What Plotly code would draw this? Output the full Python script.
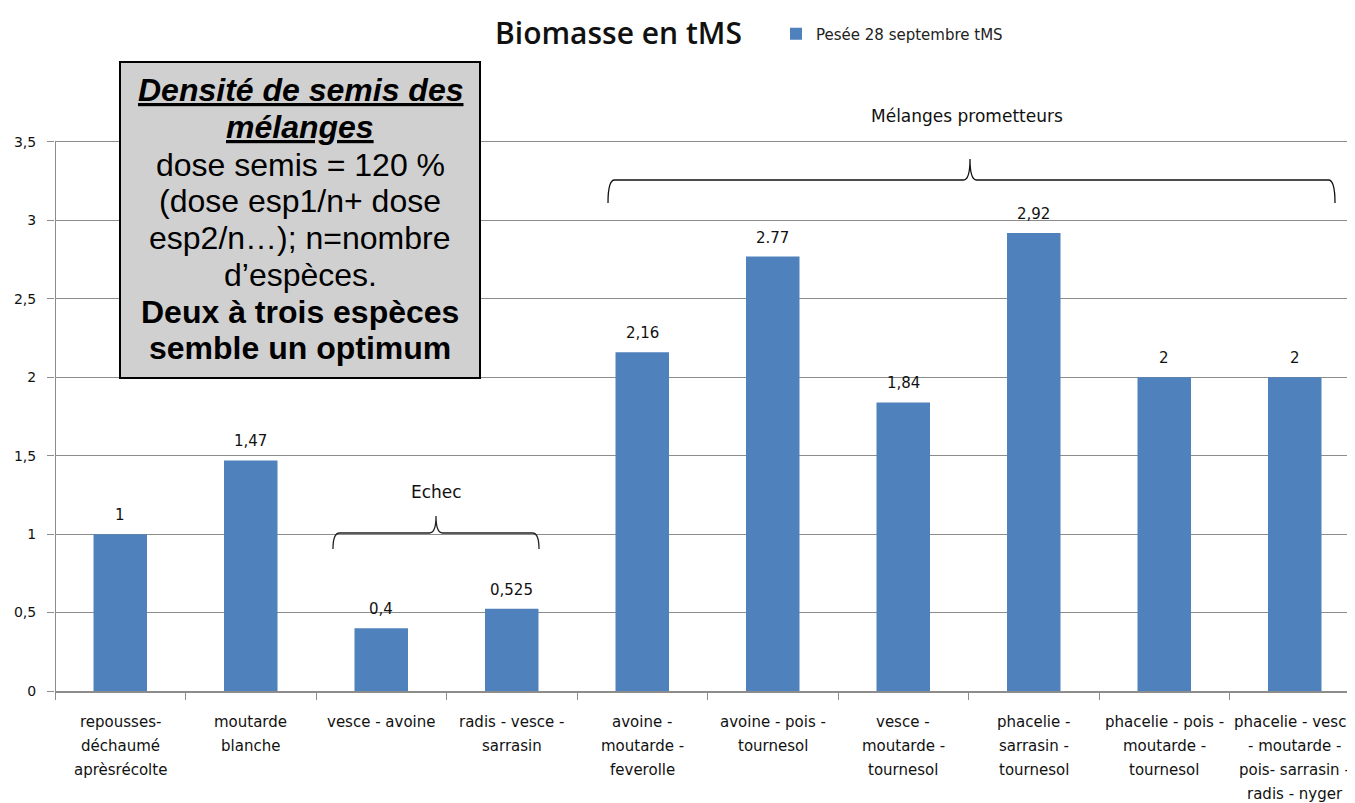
import plotly.graph_objects as go

# ---- data ----
categories = [
    ["repousses-", "déchaumé", "aprèsrécolte"],
    ["moutarde", "blanche"],
    ["vesce - avoine"],
    ["radis - vesce -", "sarrasin"],
    ["avoine -", "moutarde -", "feverolle"],
    ["avoine - pois -", "tournesol"],
    ["vesce -", "moutarde -", "tournesol"],
    ["phacelie -", "sarrasin -", "tournesol"],
    ["phacelie - pois -", "moutarde -", "tournesol"],
    ["phacelie - vesce", "- moutarde -", "pois- sarrasin -", "radis - nyger"],
]
values = [1, 1.47, 0.4, 0.525, 2.16, 2.77, 1.84, 2.92, 2, 2]
value_labels = ["1", "1,47", "0,4", "0,525", "2,16", "2.77", "1,84", "2,92", "2", "2"]
y_ticks = [0, 0.5, 1, 1.5, 2, 2.5, 3, 3.5]
y_ticktext = ["0", "0,5", "1", "1,5", "2", "2,5", "3", "3,5"]
series_name = "Pesée 28 septembre tMS"
title_text = "Biomasse en tMS"
box_lines = [
    "<b><i><u>Densité de semis des</u></i></b>",
    "<b><i><u>mélanges</u></i></b>",
    "dose semis = 120 %",
    "(dose esp1/n+ dose",
    "esp2/n…); n=nombre",
    "d’espèces.",
    "<b>Deux à trois espèces</b>",
    "<b>semble un optimum</b>",
]

BAR = "#4F81BD"
GRID = "#8c8c8c"
LABEL_FONT = "DejaVu Sans"

# layout geometry (reference pixels; page body adds an 8px offset)
OFF = 8
PLOT_L, PLOT_TOP, PLOT_BOTTOM = 55, 10, 691
PX_PER_Y = 156.86
PX_PER_CAT = 130.5


def py2y(py):
    return (PLOT_BOTTOM - py) / PX_PER_Y


def px2x(px):
    return (px - PLOT_L) / PX_PER_CAT - 0.5


x_idx = list(range(len(values)))

fig = go.Figure()
fig.add_trace(go.Bar(
    x=x_idx, y=values, name=series_name, marker=dict(color=BAR, line=dict(width=0)),
    width=0.41, showlegend=True,
))

annotations = []
# value labels
for xi, v, t in zip(x_idx, values, value_labels):
    annotations.append(dict(x=xi, y=v, xref="x", yref="y", text=t, showarrow=False,
                            yanchor="bottom", yshift=8,
                            font=dict(family=LABEL_FONT, size=15, color="#111")))
# category labels, one annotation per line
for xi, lines in zip(x_idx, categories):
    for k, line in enumerate(lines):
        annotations.append(dict(x=xi, y=0, xref="x", yref="paper", text=line, showarrow=False,
                                yanchor="middle", yshift=-(31 + 24 * k),
                                font=dict(family=LABEL_FONT, size=15, color="#111")))

# title
annotations.append(dict(x=(618 - PLOT_L) / 1300, y=(PLOT_BOTTOM - 32) / (PLOT_BOTTOM - PLOT_TOP),
                        xref="paper", yref="paper", text=title_text, showarrow=False,
                        xanchor="center", yanchor="middle",
                        font=dict(family="Open Sans", size=30, color="#111", weight=600)))

# group labels
annotations.append(dict(x=px2x(967), y=py2y(116), xref="x", yref="y", text="Mélanges prometteurs",
                        showarrow=False, yanchor="middle",
                        font=dict(family=LABEL_FONT, size=17, color="#111")))
annotations.append(dict(x=px2x(436), y=py2y(492), xref="x", yref="y", text="Echec", showarrow=False,
                        yanchor="middle", font=dict(family=LABEL_FONT, size=17, color="#111")))

# text box lines
box_line_py = [90, 127, 165, 201, 238, 275, 312, 348]
for line, py in zip(box_lines, box_line_py):
    annotations.append(dict(x=px2x(300), y=py2y(py), xref="x", yref="y", text=line, showarrow=False,
                            xanchor="center", yanchor="middle",
                            font=dict(family="Liberation Sans", size=32, color="#000")))


def brace(x0, x1, xm, yb, yh, yp, r=0.05):
    return (f"M {x0} {yb} Q {x0} {yh} {x0 + r} {yh} L {xm - r} {yh} Q {xm} {yh} {xm} {yp} "
            f"Q {xm} {yh} {xm + r} {yh} L {x1 - r} {yh} Q {x1} {yh} {x1} {yb}")


shapes = [
    # y axis line
    dict(type="line", xref="x", yref="y", x0=-0.5, x1=-0.5, y0=0, y1=3.5,
         line=dict(color=GRID, width=2)),
    # braces
    dict(type="path", xref="x", yref="y",
         path=brace(px2x(333), px2x(539), px2x(436), py2y(549), py2y(533), py2y(516)),
         line=dict(color="#222", width=1.3)),
    dict(type="path", xref="x", yref="y",
         path=brace(px2x(608), px2x(1335), px2x(970), py2y(203), py2y(180), py2y(159)),
         line=dict(color="#111", width=1.3)),
    # text box
    dict(type="rect", xref="x", yref="y", layer="above",
         x0=px2x(120), x1=px2x(480), y0=py2y(378), y1=py2y(62),
         fillcolor="#d0d0d0", line=dict(color="#000", width=2)),
]

fig.update_layout(
    width=1355 - OFF, height=803 - OFF,
    margin=dict(l=PLOT_L - OFF, r=0, t=PLOT_TOP - OFF, b=803 - PLOT_BOTTOM),
    paper_bgcolor="white", plot_bgcolor="white",
    annotations=annotations, shapes=shapes,
    legend=dict(x=(776 - PLOT_L) / 1300, y=(PLOT_BOTTOM - 34) / (PLOT_BOTTOM - PLOT_TOP),
                xanchor="left", yanchor="middle",
                orientation="h", font=dict(family=LABEL_FONT, size=15, color="#222"),
                itemwidth=30, bgcolor="rgba(0,0,0,0)"),
    xaxis=dict(range=[-0.5, -0.5 + 1300 / PX_PER_CAT],
               tickvals=[i - 0.5 for i in range(len(values) + 1)],
               ticktext=[""] * (len(values) + 1), ticks="outside", ticklen=7, tickcolor=GRID,
               showgrid=False, zeroline=False, showline=True, linecolor=GRID, linewidth=2),
    yaxis=dict(range=[0, py2y(PLOT_TOP)], tickvals=y_ticks, ticktext=y_ticktext,
               ticks="outside", ticklen=7, tickcolor=GRID, showgrid=True, gridcolor=GRID,
               gridwidth=1, zeroline=False, showline=False, ticklabelstandoff=8,
               tickfont=dict(family=LABEL_FONT, size=14, color="#111")),
)

fig.write_html("out.html")
